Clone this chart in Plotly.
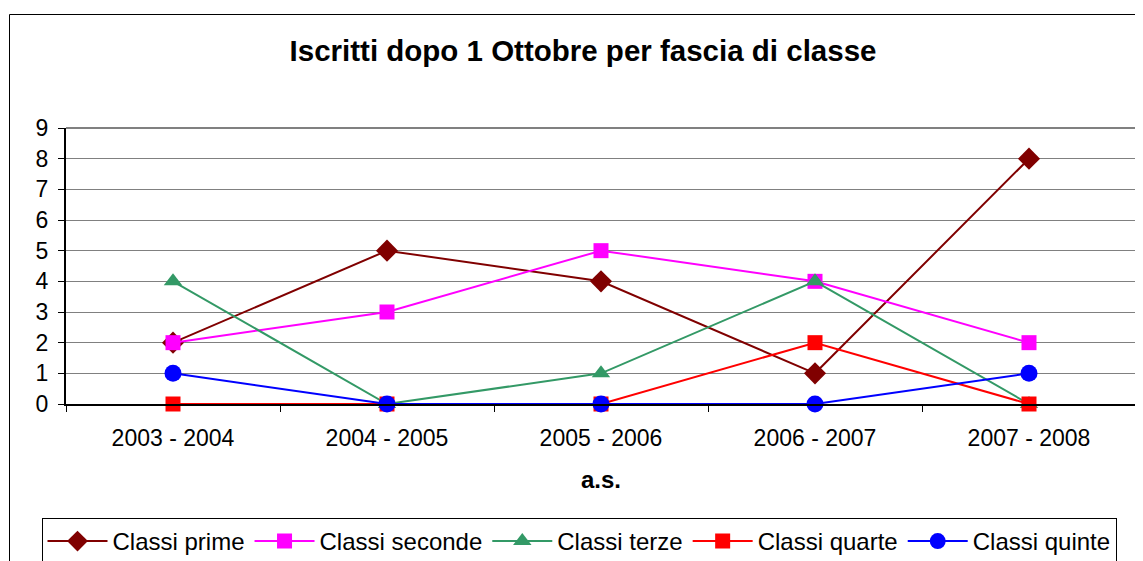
import plotly.graph_objects as go

categories = ["2003 - 2004", "2004 - 2005", "2005 - 2006", "2006 - 2007", "2007 - 2008"]
classi_prime = [2, 5, 4, 1, 8]
classi_seconde = [2, 3, 5, 4, 2]
classi_terze = [4, 0, 1, 4, 0]
classi_quarte = [0, 0, 0, 2, 0]
classi_quinte = [1, 0, 0, 0, 1]

series = [
    ("Classi prime", classi_prime, "#800000", "diamond", 17),
    ("Classi seconde", classi_seconde, "#FF00FF", "square", 15),
    ("Classi terze", classi_terze, "#339966", "triangle-up", 16),
    ("Classi quarte", classi_quarte, "#FF0000", "square", 15),
    ("Classi quinte", classi_quinte, "#0000FF", "circle", 17),
]

# the page body has an 8px default margin: lay out in page pixels minus 8
OFF = 8
W, H = 1143 - OFF, 561 - OFF
L = 66 - OFF
T = 128 - OFF
R = W - (1136 - OFF)
B = H - (404 - OFF)
pw, ph = W - L - R, H - T - B

fig = go.Figure()
for name, vals, col, sym, sz in series:
    fig.add_trace(go.Scatter(
        x=categories, y=vals, name=name, mode="lines+markers",
        line=dict(color=col, width=2),
        marker=dict(symbol=sym, size=sz, color=col, line=dict(width=0)),
        cliponaxis=False,
    ))

def px_x(p):
    return (p - OFF - L) / pw

def px_y(p):
    return (H - B - (p - OFF)) / ph

fig.update_layout(
    width=W, height=H,
    margin=dict(l=L, r=R, t=T, b=B, autoexpand=False),
    paper_bgcolor="white", plot_bgcolor="white",
    font=dict(family="Liberation Sans, Arial, sans-serif", color="black", size=23),
    title=dict(text="<b>Iscritti dopo 1 Ottobre per fascia di classe</b>",
               x=px_x(583), xanchor="center", xref="paper",
               y=1 - (51 - OFF) / H, yanchor="middle", font=dict(size=29.5)),
    showlegend=True,
    legend=dict(orientation="h", x=px_x(579), xanchor="center", y=px_y(518), yanchor="top",
                bordercolor="black", borderwidth=1, font=dict(size=24),
                itemwidth=60, tracegroupgap=0),
    xaxis=dict(
        type="category", range=[-0.5, 4.5], showgrid=False, zeroline=False,
        showline=True, linecolor="black", linewidth=2, automargin=False,
        ticks="outside", tickson="boundaries", ticklen=6, tickcolor="black", tickwidth=1,
        tickfont=dict(size=23), ticklabelstandoff=12,
        title=dict(text="<b>a.s.</b>", font=dict(size=24), standoff=22),
    ),
    yaxis=dict(
        range=[0, 9], dtick=1, showgrid=True, gridcolor="#808080", gridwidth=1,
        zeroline=False, showline=True, linecolor="black", linewidth=2, automargin=False,
        ticks="outside", ticklen=6, tickcolor="black", tickfont=dict(size=23),
        ticklabelstandoff=5,
    ),
    shapes=[
        dict(type="line", xref="paper", yref="paper", x0=0, x1=1, y0=1, y1=1,
             line=dict(color="#808080", width=2)),
        dict(type="line", xref="paper", yref="paper", x0=1, x1=1, y0=0, y1=1,
             line=dict(color="#808080", width=2)),
        dict(type="rect", xref="paper", yref="paper",
             x0=px_x(9.5), x1=px_x(1150), y0=px_y(14.5), y1=px_y(570),
             line=dict(color="black", width=1), layer="below"),
    ],
)

fig.write_html("out.html")
